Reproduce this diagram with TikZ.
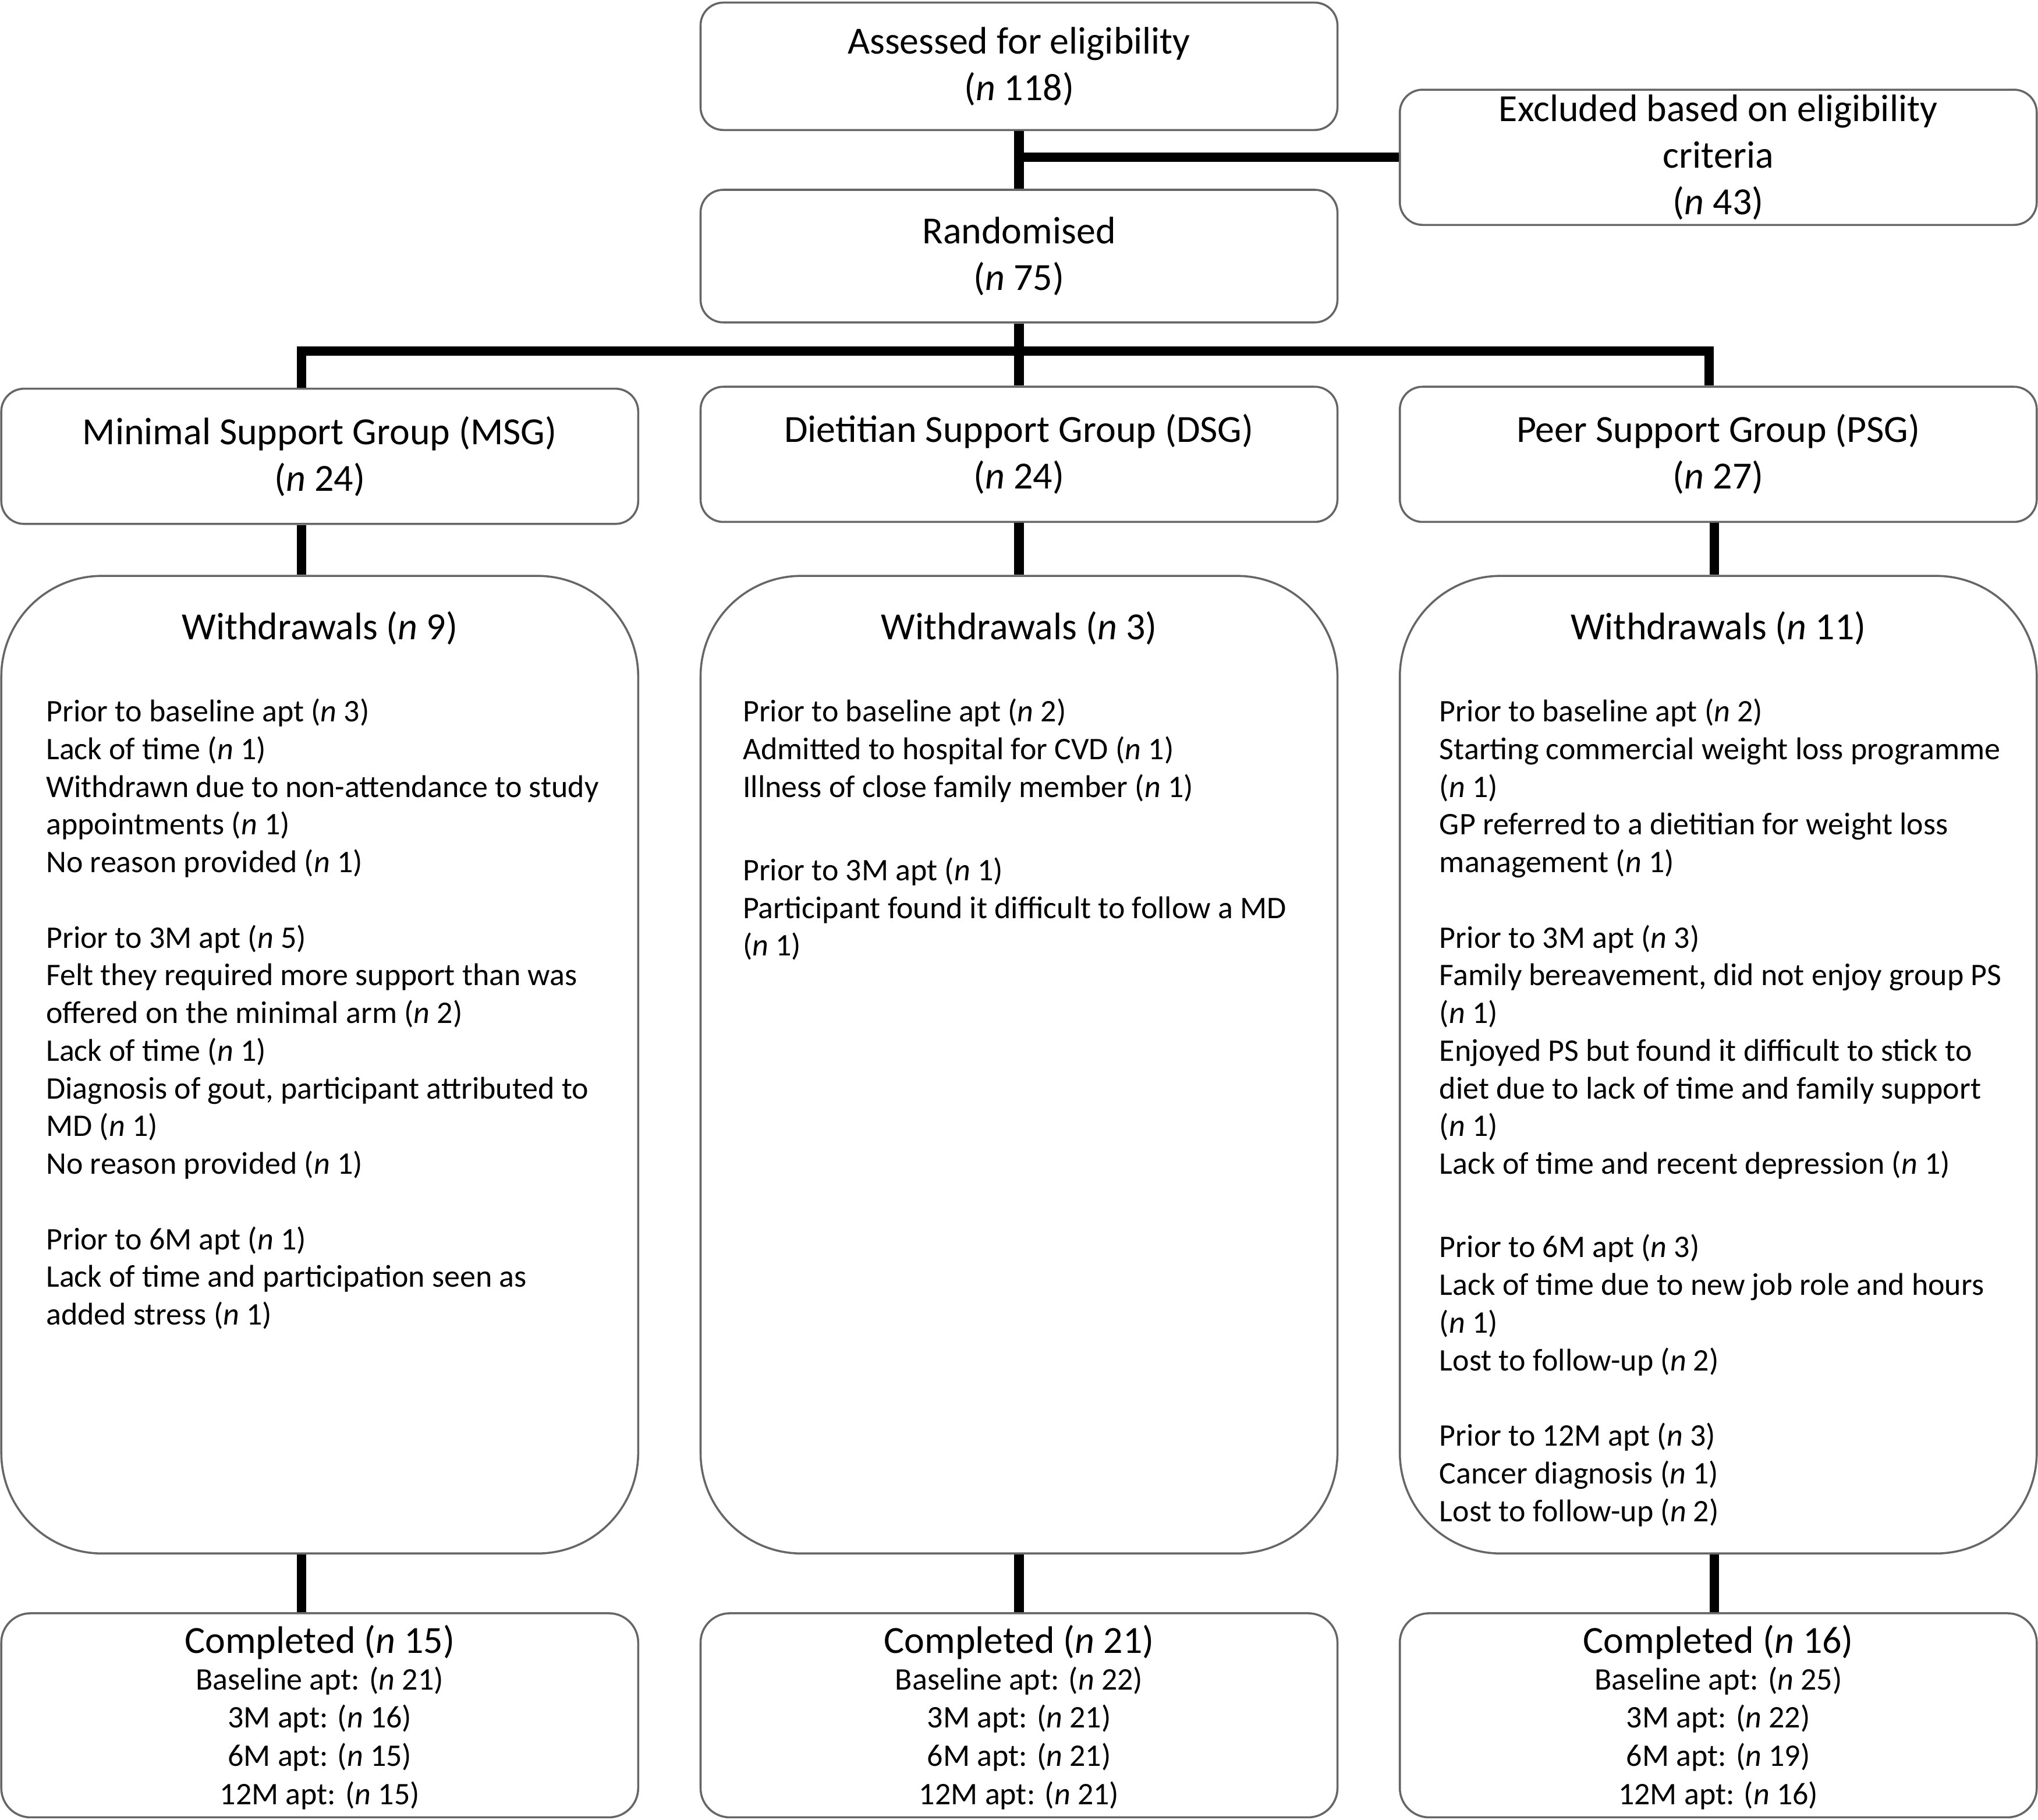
\documentclass[tikz,border=0pt]{standalone}
\usepackage{fontspec}
\setmainfont{Carlito}
\usetikzlibrary{positioning}

\newcommand{\nn}{\textit{n}}
\newcommand{\titlefont}{\fontsize{16.8}{20.4}\selectfont}
\newcommand{\listfont}{\fontsize{13.75}{16.5}\selectfont}
\newcommand{\countfont}{\fontsize{13.75}{16.8}\selectfont}
\newcommand{\gap}{\\[16.5pt]}
\newcommand{\widegap}{\\[20pt]}

\begin{document}
\begin{tikzpicture}[
    box/.style = {shape=rectangle, rounded corners=0.35cm,
      draw=black!60, line width=0.9pt, align=center,
      minimum width=9.8cm, inner sep=0pt, font=\titlefont},
    wdbox/.style = {box, rounded corners=1.55cm, minimum height=15.04cm},
    donebox/.style = {box, rounded corners=0.45cm, minimum height=3.14cm},
    heading/.style = {font=\titlefont, inner sep=0pt},
    reasons/.style = {anchor=north west, align=left, font=\listfont, inner sep=0pt},
    counts/.style = {anchor=north, align=center, font=\countfont, inner sep=0pt},
    link/.style = {line width=4.2pt}]
  \useasboundingbox (0,0) rectangle (31.36,-28);

  % enrolment
  \node[box, minimum height=1.96cm] (assess) at (15.68,-1.02)
    {Assessed for eligibility\\(\nn{} 118)};
  \node[box, minimum height=2.08cm] (excl) at (26.44,-2.42)
    {Excluded based on eligibility\\criteria\\(\nn{} 43)};
  \node[box, minimum height=2.04cm] (rand) at (15.68,-3.94)
    {Randomised\\(\nn{} 75)};

  % allocation
  \node[box, minimum height=2.08cm] (msg) at (4.92,-7.02)
    {Minimal Support Group (MSG)\\(\nn{} 24)};
  \node[box, minimum height=2.08cm] (dsg) at (15.68,-6.99)
    {Dietitian Support Group (DSG)\\(\nn{} 24)};
  \node[box, minimum height=2.08cm] (psg) at (26.44,-6.99)
    {Peer Support Group (PSG)\\(\nn{} 27)};

  % withdrawals
  \node[wdbox] (wdmsg) at (4.92,-16.38) {};
  \node[wdbox] (wddsg) at (15.68,-16.38) {};
  \node[wdbox] (wdpsg) at (26.44,-16.38) {};
  \node[heading] (wdmsgtitle) at ([yshift=-0.82cm]wdmsg.north) {Withdrawals (\nn{} 9)};
  \node[heading] (wddsgtitle) at ([yshift=-0.82cm]wddsg.north) {Withdrawals (\nn{} 3)};
  \node[heading] (wdpsgtitle) at ([yshift=-0.82cm]wdpsg.north) {Withdrawals (\nn{} 11)};

  \node[reasons] (wdmsglist) at ([xshift=0.70cm,yshift=-1.9cm]wdmsg.north west)
    {Prior to baseline apt (\nn{} 3)\\
     Lack of time (\nn{} 1)\\
     Withdrawn due to non-attendance to study\\
     appointments (\nn{} 1)\\
     No reason provided (\nn{} 1)\gap
     Prior to 3M apt (\nn{} 5)\\
     Felt they required more support than was\\
     offered on the minimal arm (\nn{} 2)\\
     Lack of time (\nn{} 1)\\
     Diagnosis of gout, participant attributed to\\
     MD (\nn{} 1)\\
     No reason provided (\nn{} 1)\gap
     Prior to 6M apt (\nn{} 1)\\
     Lack of time and participation seen as\\
     added stress (\nn{} 1)};
  \node[reasons] (wddsglist) at ([xshift=0.66cm,yshift=-1.9cm]wddsg.north west)
    {Prior to baseline apt (\nn{} 2)\\
     Admitted to hospital for CVD (\nn{} 1)\\
     Illness of close family member (\nn{} 1)\widegap
     Prior to 3M apt (\nn{} 1)\\
     Participant found it difficult to follow a MD\\
     (\nn{} 1)};
  \node[reasons] (wdpsglist) at ([xshift=0.62cm,yshift=-1.9cm]wdpsg.north west)
    {Prior to baseline apt (\nn{} 2)\\
     Starting commercial weight loss programme\\
     (\nn{} 1)\\
     GP referred to a dietitian for weight loss\\
     management (\nn{} 1)\gap
     Prior to 3M apt (\nn{} 3)\\
     Family bereavement, did not enjoy group PS\\
     (\nn{} 1)\\
     Enjoyed PS but found it difficult to stick to\\
     diet due to lack of time and family support\\
     (\nn{} 1)\\
     Lack of time and recent depression (\nn{} 1)\widegap
     Prior to 6M apt (\nn{} 3)\\
     Lack of time due to new job role and hours\\
     (\nn{} 1)\\
     Lost to follow-up (\nn{} 2)\gap
     Prior to 12M apt (\nn{} 3)\\
     Cancer diagnosis (\nn{} 1)\\
     Lost to follow-up (\nn{} 2)};

  % completed
  \node[donebox] (donemsg) at (4.92,-26.39) {};
  \node[donebox] (donedsg) at (15.68,-26.39) {};
  \node[donebox] (donepsg) at (26.44,-26.39) {};
  \node[heading] (donemsgtitle) at ([yshift=-0.46cm]donemsg.north) {Completed (\nn{} 15)};
  \node[heading] (donedsgtitle) at ([yshift=-0.46cm]donedsg.north) {Completed (\nn{} 21)};
  \node[heading] (donepsgtitle) at ([yshift=-0.46cm]donepsg.north) {Completed (\nn{} 16)};
  \node[counts] (donemsglist) at ([yshift=-0.83cm]donemsg.north)
    {Baseline apt: (\nn{} 21)\\3M apt: (\nn{} 16)\\6M apt: (\nn{} 15)\\12M apt: (\nn{} 15)};
  \node[counts] (donedsglist) at ([yshift=-0.83cm]donedsg.north)
    {Baseline apt: (\nn{} 22)\\3M apt: (\nn{} 21)\\6M apt: (\nn{} 21)\\12M apt: (\nn{} 21)};
  \node[counts] (donepsglist) at ([yshift=-0.83cm]donepsg.north)
    {Baseline apt: (\nn{} 25)\\3M apt: (\nn{} 22)\\6M apt: (\nn{} 19)\\12M apt: (\nn{} 16)};

  % connectors
  \coordinate (fork) at (15.7,-5.4);
  \draw[link] (assess) -- (rand);
  \draw[link] (assess.south |- excl.west) -- (excl.west);
  \draw[link] (rand) -- (dsg);
  \draw[link] ([xshift=-0.28cm]msg.north) |- (fork) -| ([xshift=-0.14cm]psg.north);
  \foreach \grp/\dx in {msg/-0.28, dsg/0, psg/-0.06} {
    \draw[link] ([xshift=\dx cm]\grp.south) -- ([xshift=\dx cm]wd\grp.north);
    \draw[link] ([xshift=\dx cm]wd\grp.south) -- ([xshift=\dx cm]done\grp.north);
  }
\end{tikzpicture}
\end{document}
